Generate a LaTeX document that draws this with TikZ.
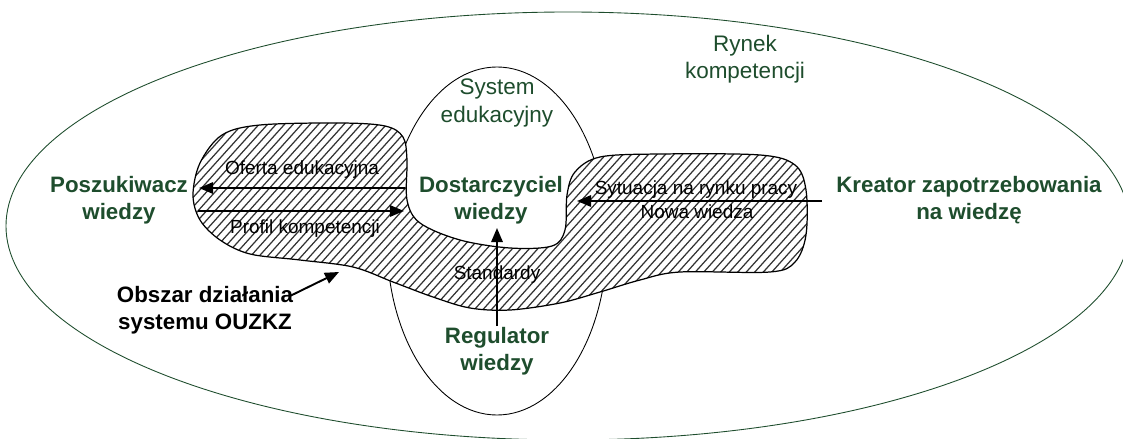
\documentclass[tikz,border=0pt]{standalone}
\usepackage{fontspec}
\setmainfont{Liberation Sans}
\usetikzlibrary{arrows.meta}
\definecolor{leaf}{RGB}{30,77,45}
\begin{document}
\begin{tikzpicture}[x=0.02cm,y=-0.02cm,
  conn/.style={line width=1.1pt,-{Triangle[length=8pt,width=6.5pt]}},
  actor/.style={text=leaf,font=\fontsize{12.7}{15.3}\selectfont\bfseries,align=center,inner sep=0pt},
  note/.style={text=black,font=\fontsize{12.7}{15.3}\selectfont\bfseries,align=center,inner sep=0pt},
  area/.style={text=leaf,font=\fontsize{12.8}{15.5}\selectfont,align=center,inner sep=0pt},
  flow/.style={font=\fontsize{10.8}{13}\selectfont,inner sep=0pt},
  hatch/.style={black!80,line width=0.7pt},
  rim/.style={line width=0.7pt}]
\useasboundingbox (0,0) rectangle (1123,439);

% competence market and education system
\draw[leaf,line width=0.5pt] (568,226) ellipse [x radius=562, y radius=214];
\draw[line width=0.5pt] (497,241) ellipse [x radius=110, y radius=174];

% operating area of the system (hatched)
\def\blob{plot[smooth cycle,tension=0.55] coordinates {
  (193,195) (200,163) (222,135) (260,125) (340,123) (385,126) (403,137)
  (407,160) (407,200) (420,223) (460,240) (510,248) (552,246) (565,230)
  (567,195) (575,172) (600,157) (660,154) (760,155) (795,165) (806,190)
  (806,235) (795,262) (770,272) (680,272) (640,280) (600,292) (560,303)
  (510,310) (470,308) (433,297) (393,282) (353,267) (300,260) (250,254)
  (220,240) (200,220)}}
\fill[white] \blob;
\begin{scope}
  \clip \blob;
  \foreach \h in {-20,-11.5,...,820} \draw[hatch] (\h,330) -- (\h+194,115);
\end{scope}
\draw[rim] \blob;

% labels
\node[area] (rynek) at (745,59) {Rynek\\kompetencji};
\node[area] (sys) at (497,103) {System\\edukacyjny};
\node[actor] (posz) at (119,200) {Poszukiwacz\\wiedzy};
\node[actor] (dost) at (491,200) {Dostarczyciel\\wiedzy};
\node[actor] (krea) at (969,200) {Kreator zapotrzebowania\\na wiedzę};
\node[actor] (reg) at (497,351) {Regulator\\wiedzy};
\node[note] (obsz) at (205,310) {Obszar działania\\systemu OUZKZ};

% flows
\coordinate (ofR) at (405,188);
\coordinate (ofL) at (199,188);
\coordinate (prL) at (198,211);
\coordinate (prR) at (404,211);
\coordinate (syR) at (822,201);
\coordinate (syL) at (577,201);
\coordinate (stB) at (497,326);
\coordinate (stT) at (497,228);
\coordinate (obS) at (290,296);
\coordinate (obT) at (339,272);

\draw[conn] (ofR) -- (ofL);
\draw[conn] (prL) -- (prR);
\draw[conn] (syR) -- (syL);
\draw[conn] (stB) -- (stT);
\draw[conn] (obS) -- (obT);

\node[flow] (oferta) at (302,170) {Oferta edukacyjna};
\node[flow] (profil) at (305,229) {Profil kompetencji};
\node[flow] (sytu) at (696,190) {Sytuacja na rynku pracy};
\node[flow] (nowa) at (697,212) {Nowa wiedza};
\node[flow] (stand) at (497,275) {Standardy};
\end{tikzpicture}
\end{document}
